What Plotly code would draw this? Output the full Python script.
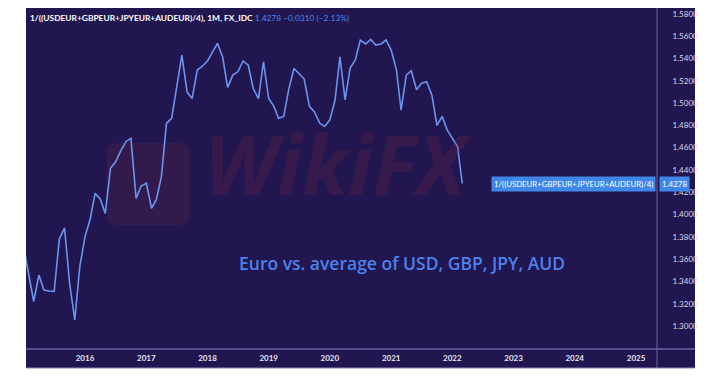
import plotly.graph_objects as go
import pandas as pd

# ---- data ----
start_month = "2015-01-01"
index_values = [
    1.370, 1.345, 1.322, 1.3457, 1.3323, 1.3314, 1.3310, 1.378, 1.388, 1.3386,
    1.3054, 1.3532, 1.380, 1.396, 1.419, 1.414, 1.401, 1.4414, 1.447, 1.457,
    1.4653, 1.4683, 1.4145, 1.4256, 1.428, 1.4056, 1.413, 1.434, 1.4818, 1.4863,
    1.515, 1.543, 1.510, 1.504, 1.5296, 1.533, 1.5377, 1.5466, 1.5535, 1.5415,
    1.514, 1.525, 1.528, 1.5377, 1.534, 1.513, 1.504, 1.537, 1.504, 1.497,
    1.4863, 1.488, 1.5125, 1.531, 1.526, 1.5215, 1.497, 1.492, 1.482, 1.479,
    1.4848, 1.5027, 1.5415, 1.5027, 1.5314, 1.5386, 1.5565, 1.553, 1.557, 1.552,
    1.553, 1.5565, 1.5475, 1.530, 1.4937, 1.525, 1.529, 1.512, 1.5177, 1.519,
    1.507, 1.480, 1.488, 1.4758, 1.4683, 1.461, 1.4278,
]
months = pd.date_range(start_month, periods=len(index_values), freq="MS")

year_ticks = ["2016", "2017", "2018", "2019", "2020", "2021", "2022", "2023", "2024", "2025"]
y_ticks = [1.30, 1.32, 1.34, 1.36, 1.38, 1.40, 1.42, 1.44, 1.46, 1.48, 1.50, 1.52, 1.54, 1.56, 1.58]
series_name = "1/((USDEUR+GBPEUR+JPYEUR+AUDEUR)/4)"
last_value = index_values[-1]
change_text = "\u22120.0310 (\u22122.13%)"
headline = "Euro vs. average of USD, GBP, JPY, AUD"

# ---- styling ----
BG = "#21164f"
LINE = "#6b95ee"
AXIS_LINE = "#6d62a0"
LABEL_BG = "#3f86e6"
FONT = "Lato"

OFF = 8  # page body margin offset
W, H = 720, 387
L = 26 - OFF
T = 0
R = W - (657 - OFF)
B = H - (349 - OFF)
pw, ph = W - L - R, H - T - B


def px(xr):
    return (xr - OFF - L) / pw


def py(yr):
    return (H - B - (yr - OFF)) / ph


fig = go.Figure()
fig.add_trace(go.Scatter(
    x=months, y=index_values, mode="lines",
    line=dict(color=LINE, width=1.6), hoverinfo="skip", showlegend=False,
))

ext_x = px(695)
ext_y = py(368)

# faint watermark logo (rounded square)
x0, x1, y0, y1, r = px(107), px(190), py(225), py(143), 10
rx, ry = r / pw, r / ph
logo_path = (f"M {x0+rx},{y0} L {x1-rx},{y0} Q {x1},{y0} {x1},{y0+ry} "
             f"L {x1},{y1-ry} Q {x1},{y1} {x1-rx},{y1} L {x0+rx},{y1} Q {x0},{y1} {x0},{y1-ry} "
             f"L {x0},{y0+ry} Q {x0},{y0} {x0+rx},{y0} Z")

shapes = [
    dict(type="rect", xref="paper", yref="paper", x0=0, x1=ext_x, y0=ext_y, y1=1,
         fillcolor=BG, line=dict(width=0), layer="below"),
    dict(type="path", xref="paper", yref="paper", path=logo_path,
         fillcolor="rgba(120,40,70,0.22)", line=dict(width=0), layer="below"),
    dict(type="line", xref="paper", yref="paper", x0=1, x1=1, y0=ext_y, y1=1,
         line=dict(color=AXIS_LINE, width=1)),
    dict(type="line", xref="paper", yref="paper", x0=0, x1=ext_x, y0=0, y1=0,
         line=dict(color=AXIS_LINE, width=1.5)),
    dict(type="line", xref="paper", yref="paper", x0=0, x1=ext_x, y0=ext_y, y1=ext_y,
         line=dict(color="#8e86bd", width=1)),
]

annotations = [
    dict(xref="paper", yref="paper", x=px(28), y=py(18), xanchor="left", yanchor="middle",
         showarrow=False,
         text=f"<b>{series_name}, 1M, FX_IDC</b> <span style='color:#4f86e8'>{last_value:.4f} {change_text}</span>",
         font=dict(family=FONT, size=8.4, color="#ffffff")),
    dict(xref="paper", yref="paper", x=px(402), y=py(263), xanchor="center", yanchor="middle",
         showarrow=False, text=headline,
         font=dict(family="Open Sans", size=17.5, color="#4d82ec", weight=600)),
    dict(xref="paper", yref="paper", x=px(338), y=py(163), xanchor="center", yanchor="middle",
         showarrow=False, text="<b><i>WikiFX</i></b>",
         font=dict(family="Open Sans", size=82, color="rgba(120,40,70,0.26)")),
    dict(xref="paper", yref="y", x=px(656), y=last_value, xanchor="right", yanchor="middle",
         showarrow=False, text=series_name, bgcolor=LABEL_BG, borderpad=2,
         font=dict(family=FONT, size=7.8, color="#ffffff")),
    dict(xref="paper", yref="y", x=px(659), y=last_value, xanchor="left", yanchor="middle",
         showarrow=False, text=f"{last_value:.4f}", bgcolor=LABEL_BG, borderpad=2,
         font=dict(family=FONT, size=8, color="#ffffff")),
]

fig.update_layout(
    width=W, height=H, autosize=False,
    margin=dict(l=L, r=R, t=T, b=B),
    paper_bgcolor="#ffffff", plot_bgcolor=BG,
    shapes=shapes, annotations=annotations,
    xaxis=dict(
        type="date", range=["2015-01-14", "2025-05-06"],
        tickvals=[f"{y}-01-01" for y in year_ticks], ticktext=[f"<b>{y}</b>" for y in year_ticks],
        showgrid=False, zeroline=False, showline=False,
        ticks="outside", ticklen=1, tickcolor="rgba(0,0,0,0)",
        tickfont=dict(family=FONT, size=8, color="#e8e6f2"),
    ),
    yaxis=dict(
        side="right", range=[1.2794, 1.5852],
        tickvals=y_ticks, ticktext=[f"{v:.4f}" for v in y_ticks],
        showgrid=False, zeroline=False, showline=False,
        ticks="outside", ticklen=13, tickcolor="rgba(0,0,0,0)",
        tickfont=dict(family=FONT, size=8, color="#dcd9ea"),
    ),
)

fig.write_html("out.html")
